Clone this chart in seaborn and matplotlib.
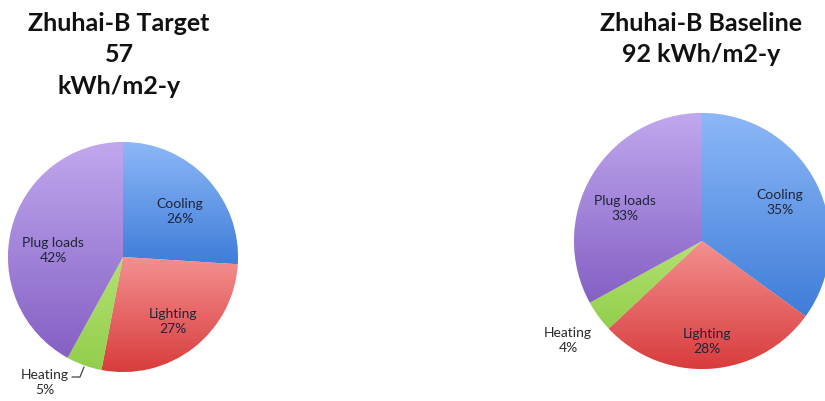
import numpy as np
import matplotlib
matplotlib.use("Agg")
import matplotlib.pyplot as plt
from matplotlib.colors import LinearSegmentedColormap
import seaborn as sns

# ---- data ----
categories = ["Cooling", "Lighting", "Heating", "Plug loads"]
target_values = [26, 27, 5, 42]
baseline_values = [35, 28, 4, 33]
target_title = "Zhuhai-B Target\n57\nkWh/m2-y"
baseline_title = "Zhuhai-B Baseline\n92 kWh/m2-y"

# ---- style ----
top_colors = ["#8db8f8", "#f49090", "#b4e270", "#c0a8ee"]
bottom_colors = ["#3f7dd8", "#d83c3c", "#92ce4c", "#8460c4"]
label_color = "#1e2538"

sns.set_theme(style="white")
plt.rcParams["font.family"] = ["Lato", "DejaVu Sans"]

W, H = 825, 402
fig = plt.figure(figsize=(W / 100, H / 100), dpi=100)
ax = fig.add_axes([0, 0, 1, 1])

# layout (pixel coordinates, y measured from top)
pies = [
    dict(values=target_values, center=(123, 258), radius=115,
         title=target_title, title_xy=(119, 55),
         label_xy=[(180, 212), (173, 322), (45, 383), (53, 251)],
         outside=[False, False, True, False]),
    dict(values=baseline_values, center=(702, 242), radius=128,
         title=baseline_title, title_xy=(701, 39),
         label_xy=[(780, 203), (707, 342), (568, 341), (625, 209)],
         outside=[False, False, True, False]),
]

for p in pies:
    cx, cy = p["center"]
    wedges, _ = ax.pie(p["values"], startangle=90, counterclock=False,
                       center=(cx, H - cy), radius=p["radius"],
                       colors=top_colors,
                       wedgeprops=dict(edgecolor="white", linewidth=0.4))
    for w, c0, c1 in zip(wedges, top_colors, bottom_colors):
        ext = w.get_path().get_extents()
        cmap = LinearSegmentedColormap.from_list("g", [c1, c0])
        grad = np.linspace(0, 1, 256).reshape(-1, 1)
        im = ax.imshow(grad, cmap=cmap, origin="lower", aspect="auto",
                       extent=[ext.x0, ext.x1, ext.y0, ext.y1],
                       interpolation="bilinear", zorder=w.get_zorder() + 0.1)
        im.set_clip_path(w)
    for cat, v, (lx, ly), out in zip(categories, p["values"], p["label_xy"], p["outside"]):
        ax.text(lx, H - ly, f"{cat}\n{v}%", ha="center", va="center",
                fontsize=10, color="#2a2a2a" if out else label_color,
                linespacing=1.3, zorder=5)
    tx, ty = p["title_xy"]
    ax.text(tx, H - ty, p["title"], ha="center", va="center", fontsize=18,
            fontweight="bold", color="#111111", linespacing=1.45, zorder=5)

# leader line for Heating (target pie)
ax.plot([72, 80, 84], [H - 378, H - 378, H - 368], color="#444444", lw=0.9, zorder=5)

ax.set_xlim(0, W)
ax.set_ylim(0, H)
ax.set_aspect("equal")
ax.axis("off")

fig.savefig("out.png", dpi=100)
